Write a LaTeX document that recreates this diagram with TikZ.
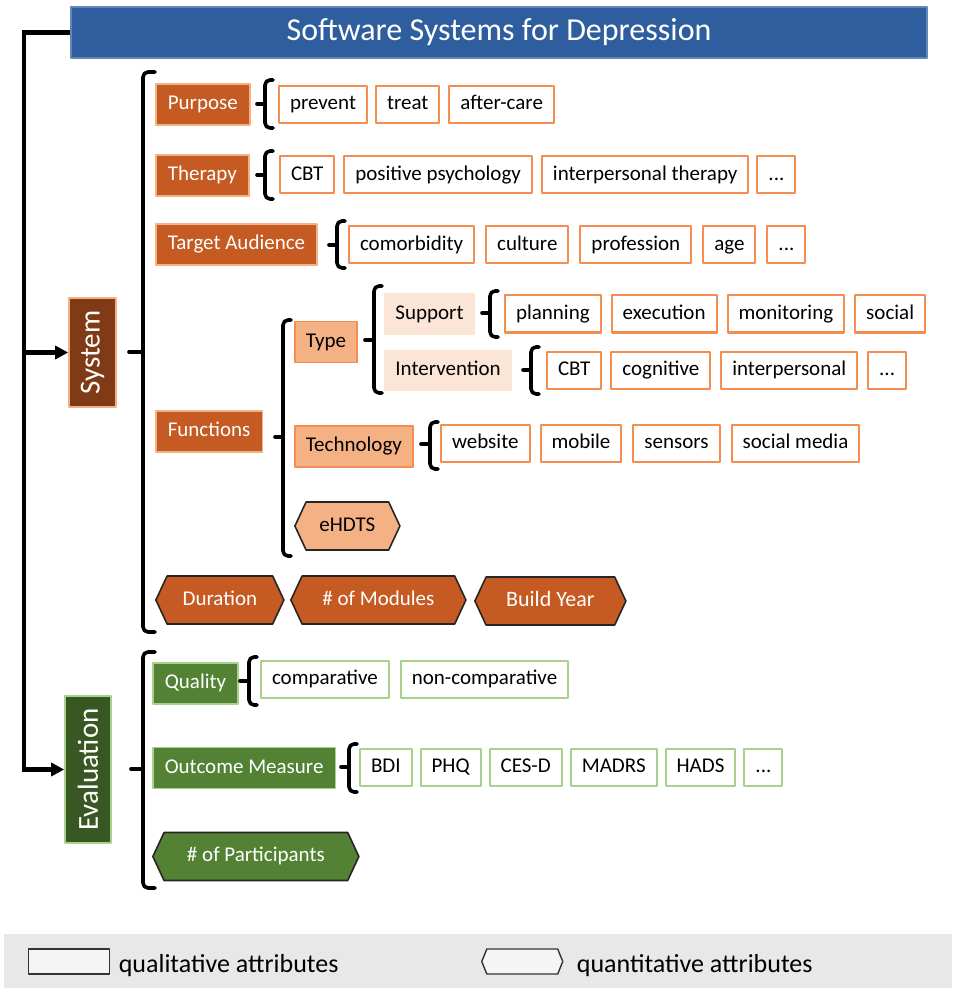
\documentclass[tikz,border=0pt]{standalone}
\usepackage{fontspec}
\setmainfont{Carlito}
\usetikzlibrary{positioning,shapes.symbols,arrows.meta}
\definecolor{ttblue}{RGB}{47,94,159}
\definecolor{sysbrown}{RGB}{128,58,22}
\definecolor{catorange}{RGB}{197,90,34}
\definecolor{lightorange}{RGB}{244,177,131}
\definecolor{paleorange}{RGB}{251,229,214}
\definecolor{itemorange}{RGB}{245,140,80}
\definecolor{evalgreen}{RGB}{56,87,35}
\definecolor{catgreen}{RGB}{84,130,53}
\definecolor{palegreen}{RGB}{169,209,142}
\definecolor{keygray}{RGB}{232,232,232}

\tikzset{
	txt/.style={font=\fontsize{10.5}{12.6}\selectfont,text height=7.4pt,text depth=2.2pt},
	attrbox/.style={txt,draw=itemorange,fill=white,line width=1pt,inner xsep=5.5pt,minimum height=18.5pt},
	gattrbox/.style={attrbox,draw=palegreen},
	catbox/.style={txt,fill=catorange,draw=lightorange,line width=0.8pt,text=white,inner xsep=6pt,minimum height=20.5pt},
	gcatbox/.style={catbox,fill=catgreen,draw=palegreen},
	subbox/.style={txt,fill=lightorange,draw=itemorange,line width=0.8pt,inner xsep=5.5pt,minimum height=20.5pt},
	palebox/.style={txt,fill=paleorange,inner xsep=5.5pt,minimum height=20.5pt},
	hexbox/.style={txt,signal,signal to=west and east,signal pointer angle=130,draw=black!85,line width=0.8pt,minimum height=24pt,text=white,fill=catorange},
	rootbox/.style={font=\fontsize{14.5}{17}\selectfont,text=white,line width=0.8pt},
	brace/.style={line width=1.8pt,rounded corners=2.5pt},
	trunk/.style={line width=2.4pt,-{Triangle[length=6.5pt,width=6.5pt]}},
	keytxt/.style={font=\fontsize{13}{15}\selectfont,inner sep=0pt,anchor=base west}
}

\begin{document}
\begin{tikzpicture}[line cap=round,line join=round,x=0.5pt,y=-0.5pt]
	\useasboundingbox (0,0) rectangle (952,989);
	% title and the two roots
	\node[fill=ttblue,draw=ttblue!75!white,line width=0.6pt,minimum width=428pt,minimum height=25.5pt,text=white,font=\fontsize{16}{19}\selectfont] (title) at (499,32.5) {Software Systems for Depression};
	\node[rootbox,fill=sysbrown,draw=lightorange,rotate=90,minimum width=54.5pt,minimum height=23.5pt] (system) at (92.5,352.5) {System};
	\node[rootbox,fill=evalgreen,draw=palegreen,rotate=90,minimum width=73.5pt,minimum height=23pt] (evaluation) at (88,769.5) {Evaluation};
	\coordinate (spine) at (24,32.5);
	\draw[trunk,line cap=butt,line join=miter] (title.west) -- (spine) |- (evaluation.north);
	\draw[trunk,line cap=butt] (spine |- system.north) -- (system.north);

	% system
	\draw[brace] (155,72) -- (143,72) -- (143,632) -- (155,632);
	\draw[brace] (143,352) -- (129,352);

	\node[catbox,anchor=west] (purpose) at (155,104.5) {Purpose};
	\draw[brace] (273,80) -- (265,80) -- (265,128) -- (273,128);
	\draw[brace] (265,104) -- (257,104);
	\node[attrbox,anchor=west] (prevent) at (278,104.5) {prevent};
	\node[attrbox,right=3.5pt of prevent] (treat) {treat};
	\node[attrbox,right=4pt of treat] (aftercare) {after-care};

	\node[catbox,anchor=west] (therapy) at (155,175.5) {Therapy};
	\draw[brace] (273,151) -- (265,151) -- (265,199) -- (273,199);
	\draw[brace] (265,175) -- (257,175);
	\node[attrbox,anchor=west] (cbt) at (279,175) {CBT};
	\node[attrbox,right=4pt of cbt] (positive) {positive psychology};
	\node[attrbox,right=4pt of positive] (interptherapy) {interpersonal therapy};
	\node[attrbox,right=3.5pt of interptherapy] (moretherapy) {...};

	\node[catbox,anchor=west] (audience) at (155,244.5) {Target Audience};
	\draw[brace] (345,221) -- (337,221) -- (337,268) -- (345,268);
	\draw[brace] (337,245) -- (329,245);
	\node[attrbox,anchor=west] (comorbidity) at (348,245) {comorbidity};
	\node[attrbox,right=5pt of comorbidity] (culture) {culture};
	\node[attrbox,right=5pt of culture] (profession) {profession};
	\node[attrbox,right=5pt of profession] (age) {age};
	\node[attrbox,right=5pt of age] (moreaudience) {...};

	\node[catbox,anchor=west] (functions) at (155,431.5) {Functions};
	\draw[brace] (291,320) -- (283,320) -- (283,556) -- (291,556);
	\draw[brace] (283,437) -- (275,437);

	\node[subbox,anchor=west] (type) at (294,342) {Type};
	\draw[brace] (382,286) -- (374,286) -- (374,393) -- (382,393);
	\draw[brace] (374,340) -- (365,340);
	\node[palebox,anchor=west] (support) at (384,314) {Support};
	\draw[brace] (498,291) -- (490,291) -- (490,337) -- (498,337);
	\draw[brace] (490,313) -- (482,313);
	\node[attrbox,anchor=west] (planning) at (504,314) {planning};
	\node[attrbox,right=4.5pt of planning] (execution) {execution};
	\node[attrbox,right=4.5pt of execution] (monitoring) {monitoring};
	\node[attrbox,right=4.5pt of monitoring] (social) {social};
	\node[palebox,anchor=west] (intervention) at (384,370.5) {Intervention};
	\draw[brace] (539,347) -- (531,347) -- (531,394) -- (539,394);
	\draw[brace] (531,370) -- (523,370);
	\node[attrbox,anchor=west] (cbtint) at (546,370.5) {CBT};
	\node[attrbox,right=4pt of cbtint] (cognitive) {cognitive};
	\node[attrbox,right=4.5pt of cognitive] (interpersonal) {interpersonal};
	\node[attrbox,right=4.5pt of interpersonal] (moreint) {...};

	\node[subbox,anchor=west] (technology) at (294,446.5) {Technology};
	\draw[brace] (438,422) -- (430,422) -- (430,469) -- (438,469);
	\draw[brace] (430,444) -- (421,444);
	\node[attrbox,anchor=west] (website) at (440,443.5) {website};
	\node[attrbox,right=4.5pt of website] (mobile) {mobile};
	\node[attrbox,right=5pt of mobile] (sensors) {sensors};
	\node[attrbox,right=5pt of sensors] (socialmedia) {social media};

	\node[hexbox,fill=lightorange,text=black,anchor=west,minimum width=52.5pt] (ehdts) at (294,526) {eHDTS};

	\node[hexbox,anchor=west,minimum width=64pt] (duration) at (155,600) {Duration};
	\node[hexbox,anchor=west,minimum width=87.5pt] (modules) at (290,600) {\# of Modules};
	\node[hexbox,anchor=west,minimum width=75.5pt,font=\fontsize{11}{13}\selectfont] (buildyear) at (474,601) {Build Year};

	% evaluation
	\draw[brace] (155,652) -- (143,652) -- (143,888) -- (155,888);
	\draw[brace] (143,769) -- (131,769);

	\node[gcatbox,anchor=west] (quality) at (152,683.5) {Quality};
	\draw[brace] (257,657) -- (249,657) -- (249,705) -- (257,705);
	\draw[brace] (249,681) -- (240,681);
	\node[gattrbox,anchor=west] (comparative) at (260,679.5) {comparative};
	\node[gattrbox,right=5pt of comparative] (noncomparative) {non-comparative};

	\node[gcatbox,anchor=west] (outcome) at (152,768) {Outcome Measure};
	\draw[brace] (357,744) -- (349,744) -- (349,792) -- (357,792);
	\draw[brace] (349,767) -- (341,767);
	\node[gattrbox,anchor=west] (bdi) at (359,767) {BDI};
	\node[gattrbox,right=3.5pt of bdi] (phq) {PHQ};
	\node[gattrbox,right=3.5pt of phq] (cesd) {CES-D};
	\node[gattrbox,right=3.5pt of cesd] (madrs) {MADRS};
	\node[gattrbox,right=3.5pt of madrs] (hads) {HADS};
	\node[gattrbox,right=3.5pt of hads] (moreoutcome) {...};

	\node[hexbox,fill=catgreen,anchor=west,minimum width=103pt] (participants) at (152,856.5) {\# of Participants};

	% legend
	\fill[keygray] (4,934) rectangle (952,988);
	\node[draw=black!80,fill=black!4,line width=0.7pt,minimum width=40.5pt,minimum height=12.5pt,anchor=west] (qualkey) at (28,961.5) {};
	\node[keytxt,xshift=4pt,yshift=-5.5pt] (qualtxt) at (qualkey.east) {qualitative attributes};
	\node[signal,signal to=west and east,signal pointer angle=136,draw=black!80,fill=black!4,line width=0.7pt,minimum width=40.5pt,minimum height=12.5pt,anchor=west] (quantkey) at (481,961.5) {};
	\node[keytxt,xshift=6.5pt,yshift=-5.5pt] (quanttxt) at (quantkey.east) {quantitative attributes};
\end{tikzpicture}
\end{document}
